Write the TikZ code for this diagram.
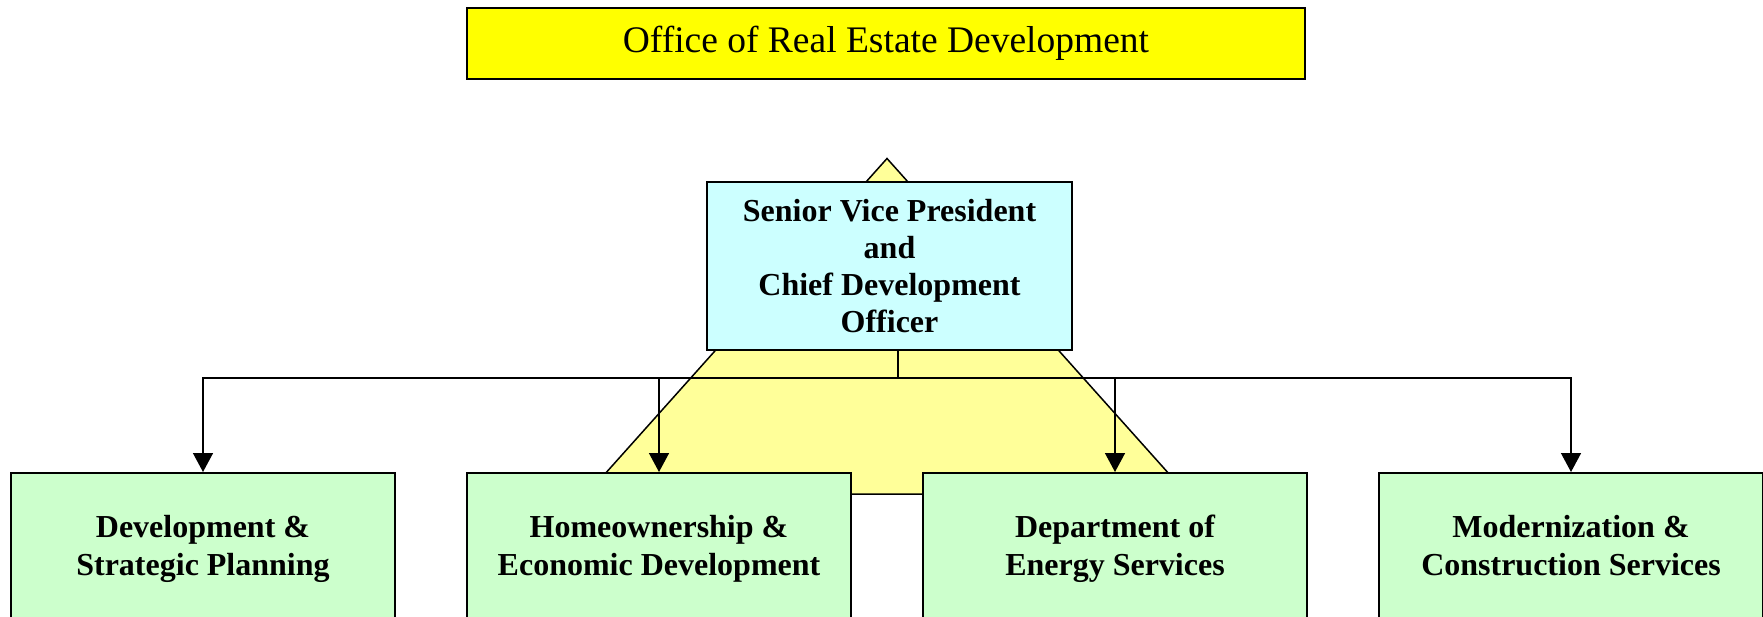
\documentclass[tikz,border=0pt]{standalone}
\usepackage{fontspec}
\setmainfont{Liberation Serif}
\usepackage{tikz}
\usetikzlibrary{arrows.meta}
\usetikzlibrary{calc}
\definecolor{officeyellow}{HTML}{FFFF00}
\definecolor{pyramidyellow}{HTML}{FFFF99}
\definecolor{svpcyan}{HTML}{CCFFFF}
\definecolor{deptgreen}{HTML}{CCFFCC}
\tikzset{
  orgbox/.style={draw=black,line width=2pt,inner sep=0pt,align=center},
  deptbox/.style={orgbox,fill=deptgreen,minimum width=384pt,minimum height=156pt,
    font=\fontsize{32}{38.5}\selectfont\bfseries,execute at end node={\strut}},
  feed/.style={black,line width=1.5pt,-{Triangle[length=19pt,width=20pt]}}
}

\begin{document}
\begin{tikzpicture}[x=1pt,y=-1pt]
\useasboundingbox (0,0) rectangle (1763,617);
\clip (0,0) rectangle (1763,617);

% pyramid behind the chart
\filldraw[fill=pyramidyellow,draw=black,line width=1.5pt] (887,158.5) -- (1187,494) -- (587,494) -- cycle;

\node[orgbox,fill=officeyellow,minimum width=838pt,minimum height=71pt,
  font=\fontsize{37.5}{40}\selectfont] (office) at (886,43.5) {Office of Real Estate Development};

\node[orgbox,fill=svpcyan,minimum width=365pt,minimum height=168pt,
  font=\fontsize{32}{36.8}\selectfont\bfseries] (svp) at (889.5,266)
  {Senior Vice President\\and\\Chief Development\\Officer};

\node[deptbox] (dsp) at (203,551) {Development \&\\Strategic Planning};
\node[deptbox] (hed) at (659,551) {Homeownership \&\\Economic Development};
\node[deptbox] (des) at (1115,551) {Department of\\Energy Services};
\node[deptbox] (mcs) at (1571,551) {Modernization \&\\Construction Services};

\coordinate (bus) at (898,378);
\draw[black,line width=1.5pt] (svp.south -| bus) -- (bus);
\foreach \dept in {dsp,hed,des,mcs}
  \draw[feed] (bus) -| (\dept.north);
\end{tikzpicture}
\end{document}
